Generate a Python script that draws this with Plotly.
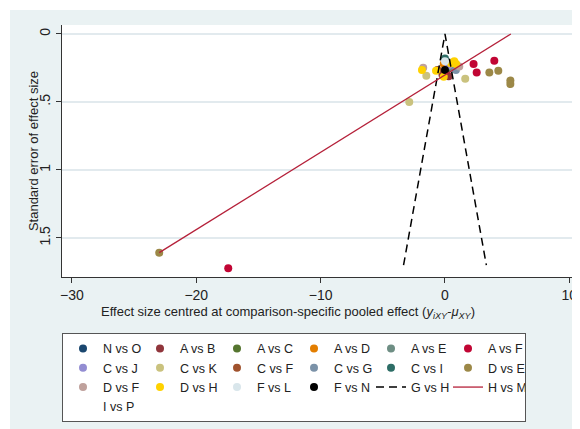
import plotly.graph_objects as go

# ---- data ----
labels = ["N vs O", "A vs B", "A vs C", "A vs D", "A vs E", "A vs F",
          "C vs J", "C vs K", "C vs F", "C vs G", "C vs I", "D vs E",
          "D vs F", "D vs H", "F vs L", "F vs N"]
colors = ["#1a476f", "#90353b", "#55752f", "#e37e00", "#6e8e84", "#c10534",
          "#938dd2", "#cac27e", "#a0522d", "#7b92a8", "#2d6d66", "#9c8847",
          "#bfa19c", "#ffd200", "#d9e6eb", "#000000"]
effect_x = [
    [0.1],
    [-0.2, 0.3],
    [0.2],
    [-0.1],
    [0.5],
    [-17.43, 2.3, 3.97, 2.55],
    [0.3],
    [-2.87, -1.5, 1.63],
    [-0.6],
    [0.88],
    [0.0],
    [-22.98, 3.57, 4.29, 5.26, 5.26],
    [-1.75, 1.15],
    [-1.85, -0.72, 0.48, 0.75, -0.1, 0.9],
    [0.0],
    [0.0],
]
se_y = [
    [0.26],
    [0.30, 0.31],
    [0.25],
    [0.22],
    [0.24],
    [1.723, 0.22, 0.196, 0.284],
    [0.23],
    [0.50, 0.307, 0.33],
    [0.265],
    [0.265],
    [0.18],
    [1.608, 0.284, 0.27, 0.343, 0.368],
    [0.248, 0.24],
    [0.265, 0.27, 0.215, 0.20, 0.314, 0.22],
    [0.20],
    [0.265],
]
funnel_x = [-3.33, 0.0, 3.33]
funnel_se = [1.70, 0.0, 1.70]
fit_x = [-22.98, 5.3]
fit_se = [1.608, 0.0]
x_ticks = [-30, -20, -10, 0, 10]
y_ticks = [0, 0.5, 1, 1.5]
y_ticktext = ["0", ".5", "1", "1.5"]

FONT = "Liberation Sans, Arial, sans-serif"
fig = go.Figure()

for name, col, xs, ys in zip(labels, colors, effect_x, se_y):
    fig.add_trace(go.Scatter(x=xs, y=ys, mode="markers", name=name,
                             marker=dict(color=col, size=8, line=dict(width=0))))

fig.add_trace(go.Scatter(x=funnel_x, y=funnel_se, mode="lines", name="G vs H",
                         line=dict(color="black", width=1.5, dash="8px,5px")))
fig.add_trace(go.Scatter(x=fit_x, y=fit_se, mode="lines", name="H vs M",
                         line=dict(color="#b5213a", width=1.3)))
fig.add_trace(go.Scatter(x=[None], y=[None], mode="markers", name="I vs P",
                         marker=dict(color="rgba(0,0,0,0)", size=8)))

fig.add_vline(x=0, line=dict(color="#e2342c", width=1.5), layer="below")

# graph region background (light blue with a thin white strip at top/left)
fig.add_shape(type="rect", xref="paper", yref="paper", layer="below",
              x0=-0.1008, x1=1.02, y0=-0.65, y1=1.0595,
              fillcolor="#eaf2f3", line=dict(width=0))
fig.add_shape(type="rect", xref="paper", yref="paper", layer="below",
              x0=0, x1=1, y0=0, y1=1, fillcolor="white", line=dict(width=0))

fig.update_xaxes(range=[-30.8, 10.7], tickvals=x_ticks, ticks="outside",
                 ticklen=5, tickcolor="#333", showline=True, linecolor="#333",
                 linewidth=1, showgrid=False, zeroline=False, automargin=False,
                 tickfont=dict(size=14, color="#222", family=FONT))
fig.update_yaxes(range=[1.787, -0.066], tickvals=y_ticks, ticktext=y_ticktext,
                 tickangle=-90, ticks="outside", ticklen=5, tickcolor="#333",
                 showline=True, linecolor="#333", linewidth=1,
                 showgrid=True, gridcolor="#e2eaee", gridwidth=1.5,
                 zeroline=False, automargin=False,
                 tickfont=dict(size=14, color="#222", family=FONT))

fig.add_annotation(text="Standard error of effect size", xref="paper", yref="paper",
                   x=-0.056, y=0.5, xanchor="center", yanchor="middle",
                   textangle=-90, showarrow=False,
                   font=dict(size=13, color="#222", family=FONT))
fig.add_annotation(text="Effect size centred at comparison-specific pooled effect "
                        "(<i>y<sub>iXY</sub>-μ<sub>XY</sub></i>)",
                   xref="paper", yref="paper", x=0.438, y=-0.139,
                   xanchor="center", yanchor="middle",
                   showarrow=False, font=dict(size=13, color="#222", family=FONT))

fig.update_layout(
    template="none",
    width=572, height=421,
    margin=dict(l=54, r=2, t=17, b=152, autoexpand=False),
    paper_bgcolor="white", plot_bgcolor="white",
    font=dict(family=FONT, size=13, color="#222"),
    showlegend=True,
    legend=dict(orientation="h", x=0, xanchor="left", y=-0.222, yanchor="top",
                bgcolor="white", bordercolor="#555", borderwidth=1,
                font=dict(size=12.5, family=FONT, color="#222"),
                entrywidth=32, itemwidth=30, tracegroupgap=0),
)

fig.write_html("out.html")
